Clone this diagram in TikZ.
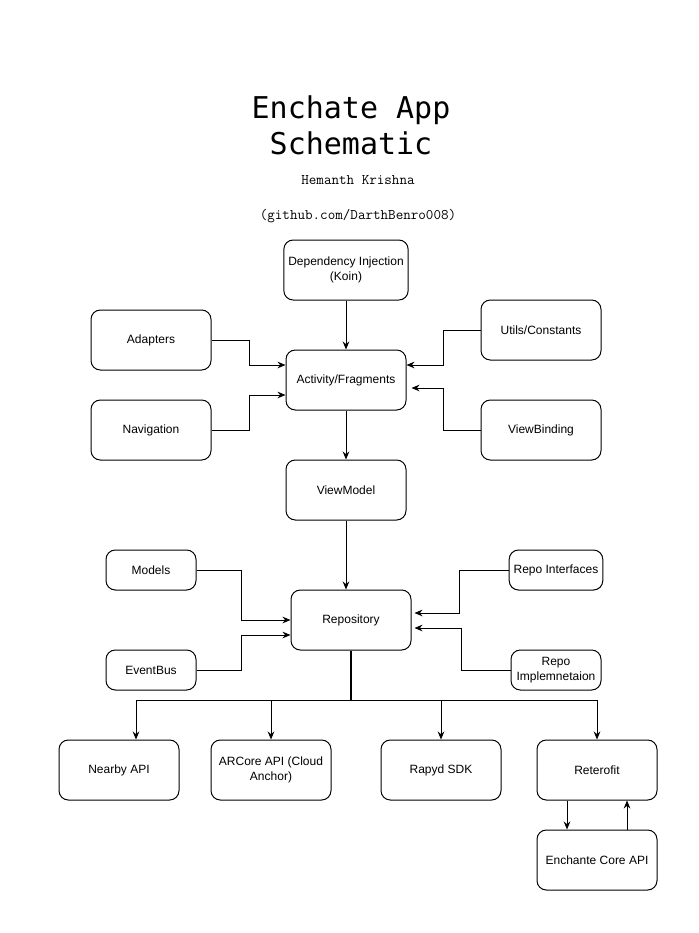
\documentclass[tikz,border=0pt]{standalone}
\usepackage{fontspec}
\setmainfont{Liberation Sans}
\newfontfamily\titlefont{DejaVu Sans Mono}
\usepackage{tikz}
\usetikzlibrary{arrows.meta, positioning, calc}

\begin{document}
\begin{tikzpicture}[x=0.75pt, y=-0.75pt,
    block/.style={draw, line width=0.75pt, rounded corners=7pt, align=center,
                  minimum width=90pt, minimum height=45pt, font=\fontsize{9}{11}\selectfont},
    smallblock/.style={block, minimum width=67.5pt, minimum height=30pt},
    arr/.style={-{Stealth[length=6pt, width=5pt]}, line width=0.75pt},
    stem/.style={line width=1.1pt}]

\useasboundingbox (0,0) rectangle (699,933);

% Title block
\node[font=\titlefont\fontsize{22.5}{27}\selectfont, align=center] (title) at (351,125)
      {Enchate App\\Schematic};
\node[font=\ttfamily\fontsize{11}{13}\selectfont] (author) at (358,180) {Hemanth Krishna};
\node[font=\ttfamily\fontsize{11}{13}\selectfont] (github) at (358,216) {(github.com/DarthBenro008)};

% UI layer
\node[block] (di)    at (346,270) {Dependency Injection\\(Koin)};
\node[block] (act)   at (346,380) {Activity/Fragments};
\node[block] (adapt) at (151,340) {Adapters};
\node[block] (nav)   at (151,430) {Navigation};
\node[block] (utils) at (541,330) {Utils/Constants};
\node[block] (vbind) at (541,430) {ViewBinding};
\node[block] (vm)    at (346,490) {ViewModel};

% Data layer
\node[block]      (repo)   at (351,620) {Repository};
\node[smallblock] (models) at (151,570) {Models};
\node[smallblock] (evbus)  at (151,670) {EventBus};
\node[smallblock] (rint)   at (556,570) {Repo Interfaces};
\node[smallblock] (rimp)   at (556,670) {Repo\\Implemnetaion};

% Services
\node[block] (nearby) at (119,770) {Nearby API};
\node[block] (arcore) at (271,770) {ARCore API (Cloud\\Anchor)};
\node[block] (rapyd)  at (441,770) {Rapyd SDK};
\node[block] (reto)   at (597,770) {Reterofit};
\node[block] (core)   at (597,860) {Enchante Core API};

% Connectors into Activity/Fragments
\draw[arr] (di.south) -- (act.north);
\draw[arr] (adapt.east) -- ++(38,0) |- ($(act.west)+(0,-15)$);
\draw[arr] (nav.east) -- ++(38,0) |- ($(act.west)+(0,15)$);
\draw[arr] (utils.west) -- ++(-37,0) |- ($(act.east)+(0,-15)$);
\draw[arr] (vbind.west) -- ++(-37,0) |- ($(act.east)+(5,8)$);
\draw[arr] (act.south) -- (vm.north);
\draw[arr] (vm.south) -- (vm.south |- repo.north);

% Connectors into Repository
\draw[arr] (models.east) -- ++(45,0) |- (repo.west);
\draw[arr] (evbus.east) -- ++(45,0) |- ($(repo.west)+(0,15)$);
\draw[arr] (rint.west) -- ++(-49,0) |- ($(repo.east)+(3,-7)$);
\draw[arr] (rimp.west) -- ++(-49,0) |- ($(repo.east)+(3,8)$);

% Bus from Repository to the services
\coordinate (bus) at (351,700);
\draw[stem] (repo.south) -- (bus);
\draw[arr] (bus) -| ($(nearby.north)+(17,0)$);
\draw[arr] (bus) -| (reto.north);
\draw[arr] (bus -| arcore.north) -- (arcore.north);
\draw[arr] (bus -| rapyd.north) -- (rapyd.north);

% Reterofit <-> Enchante Core API
\draw[arr] ($(reto.south)+(-30,0)$) -- ($(core.north)+(-30,0)$);
\draw[arr] ($(core.north)+(30,0)$) -- ($(reto.south)+(30,0)$);

\end{tikzpicture}
\end{document}
